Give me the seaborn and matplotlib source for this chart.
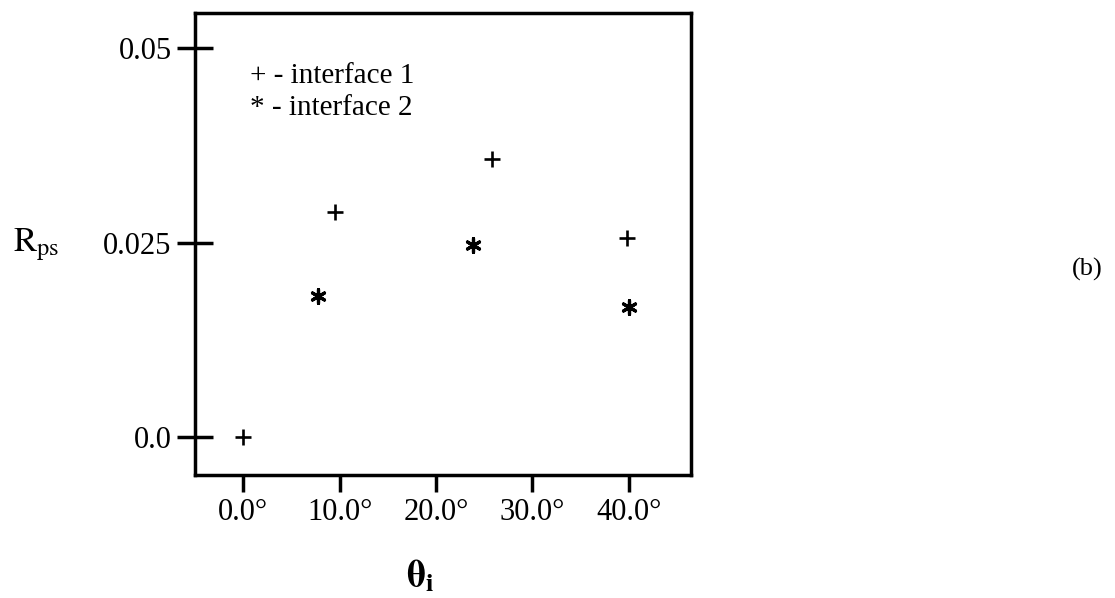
import matplotlib
matplotlib.use("Agg")
import matplotlib.pyplot as plt
import seaborn as sns
import pandas as pd

sns.set_style("white")
plt.rcParams['font.family'] = ['Liberation Serif', 'DejaVu Serif']
plt.rcParams['mathtext.fontset'] = 'stix'
plt.rcParams['text.color'] = 'black'
plt.rcParams['xtick.color'] = 'black'
plt.rcParams['ytick.color'] = 'black'
plt.rcParams['axes.labelcolor'] = 'black'

# interface 1 (+) and interface 2 (*)
theta_1 = [0.0, 9.5, 25.8, 39.8]
rps_1 = [0.0, 0.029, 0.0358, 0.0256]
theta_2 = [7.8, 23.8, 40.0]
rps_2 = [0.0182, 0.0247, 0.0168]

x_ticks = [0, 10, 20, 30, 40]
x_labels = ["0.0°", "10.0°", "20.0°", "30.0°", "40.0°"]
y_ticks = [0.0, 0.025, 0.05]
y_labels = ["0.0", "0.025", "0.05"]

df1 = pd.DataFrame({"theta": theta_1, "rps": rps_1})
df2 = pd.DataFrame({"theta": theta_2, "rps": rps_2})

fig = plt.figure(figsize=(11.15, 5.98), dpi=100)
ax = fig.add_axes([0.175, 0.205, 0.445, 0.773])

sns.scatterplot(data=df1, x="theta", y="rps", marker="+", color="black",
                s=120, linewidth=1.9, ax=ax)
sns.scatterplot(data=df2, x="theta", y="rps", marker=(6, 2, 0), color="black",
                s=100, linewidth=2.3, ax=ax)

ax.set_xlim(-5.0, 46.5)
ax.set_ylim(-0.0049, 0.0545)
ax.set_xticks(x_ticks)
ax.set_xticklabels(x_labels, fontsize=22)
ax.set_yticks(y_ticks)
ax.set_yticklabels(y_labels, fontsize=22)
ax.tick_params(axis="x", bottom=True, direction="out", length=12, width=2.5, pad=4)
ax.tick_params(axis="y", left=True, direction="inout", length=26, width=2.5, pad=4)

for sp in ax.spines.values():
    sp.set_linewidth(2.5)
    sp.set_color("black")

ax.set_xlabel("")
ax.set_ylabel("")

ax.text(0.11, 0.865, "+ - interface 1", transform=ax.transAxes, fontsize=21, va="center")
ax.text(0.11, 0.795, "* - interface 2", transform=ax.transAxes, fontsize=21, va="center")

fig.text(0.377, 0.035, r"$\mathbf{\theta}_\mathbf{i}$", fontsize=27, ha="center", va="center")
fig.text(0.012, 0.59, r"$\mathrm{R}_\mathrm{ps}$", fontsize=25, ha="left", va="center")
fig.text(0.975, 0.55, "(b)", fontsize=19, ha="center", va="center")

fig.savefig("out.png", dpi=100)
